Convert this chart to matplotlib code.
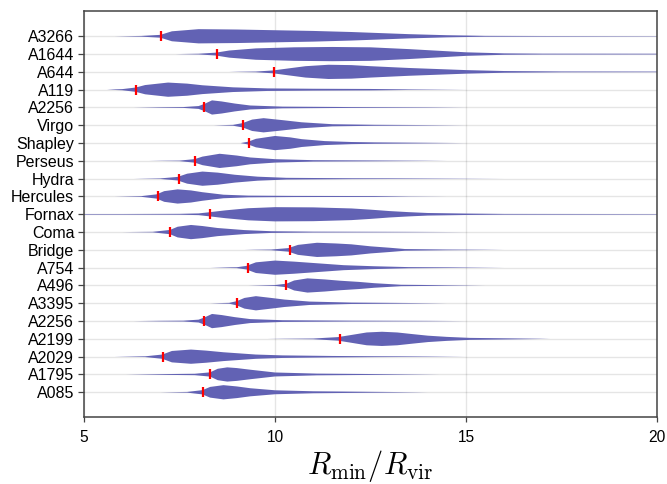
import numpy as np
import matplotlib
matplotlib.use("Agg")
import matplotlib.pyplot as plt

plt.rcParams['font.family'] = ['Liberation Sans', 'DejaVu Sans']
plt.rcParams['mathtext.fontset'] = 'cm'

# clusters, listed bottom to top
clusters = ["A085", "A1795", "A2029", "A2199", "A2256", "A3395", "A496", "A754",
            "Bridge", "Coma", "Fornax", "Hercules", "Hydra", "Perseus", "Shapley",
            "Virgo", "A2256", "A119", "A644", "A1644", "A3266"]

# observed R_min/R_vir of each cluster (red ticks)
observed = [8.12, 8.31, 7.06, 11.7, 8.14, 9.0, 10.3, 9.28,
            10.4, 7.26, 8.3, 6.94, 7.48, 7.91, 9.31,
            9.16, 8.14, 6.36, 9.97, 8.48, 7.02]

# density profiles of the simulated R_min/R_vir: grid and relative density
grid_a085 = [7.0, 7.7, 8.1, 8.3, 8.65, 9.0, 9.35, 10.0, 11.0, 12.6, 14.0]
dens_a085 = [0.0, 0.05, 0.3, 0.75, 1.0, 0.82, 0.57, 0.28, 0.14, 0.06, 0.0]
grid_a1795 = [6.1, 7.0, 7.9, 8.3, 8.5, 8.75, 9.0, 9.35, 10.0, 11.1, 12.6, 14.3]
dens_a1795 = [0.0, 0.05, 0.1, 0.3, 0.8, 1.0, 0.9, 0.67, 0.28, 0.12, 0.06, 0.0]
grid_a2029 = [5.8, 6.6, 7.05, 7.3, 7.8, 8.2, 8.65, 9.5, 10.2, 11.5, 12.6, 14.0, 15.0]
dens_a2029 = [0.0, 0.05, 0.3, 0.8, 1.0, 0.85, 0.62, 0.3, 0.18, 0.1, 0.06, 0.03, 0.0]
grid_a2199 = [9.8, 11.0, 11.65, 12.0, 12.4, 12.8, 13.2, 13.6, 14.0, 14.5, 15.1, 16.2, 17.2]
dens_a2199 = [0.0, 0.05, 0.25, 0.55, 0.9, 1.0, 0.9, 0.67, 0.45, 0.28, 0.14, 0.07, 0.0]
grid_a2256 = [6.3, 7.0, 7.6, 8.0, 8.15, 8.35, 8.6, 8.95, 9.35, 10.2, 12.0, 14.0, 15.0]
dens_a2256 = [0.0, 0.04, 0.06, 0.2, 0.5, 1.0, 0.85, 0.55, 0.28, 0.12, 0.06, 0.03, 0.0]
grid_a3395 = [8.3, 8.8, 9.0, 9.2, 9.5, 9.9, 10.25, 10.9, 12.0, 13.5, 14.5]
dens_a3395 = [0.0, 0.06, 0.3, 0.75, 1.0, 0.75, 0.52, 0.24, 0.1, 0.04, 0.0]
grid_a496 = [9.3, 10.0, 10.3, 10.5, 10.85, 11.3, 11.7, 12.2, 12.6, 13.3, 14.5, 15.5]
dens_a496 = [0.0, 0.06, 0.25, 0.7, 1.0, 0.85, 0.67, 0.5, 0.32, 0.1, 0.04, 0.0]
grid_a754 = [8.3, 9.0, 9.25, 9.5, 10.0, 10.5, 11.1, 11.8, 12.6, 13.5, 15.0, 16.0]
dens_a754 = [0.0, 0.06, 0.25, 0.75, 1.0, 0.85, 0.62, 0.35, 0.2, 0.08, 0.03, 0.0]
grid_bridge = [9.2, 9.9, 10.35, 10.6, 11.1, 11.6, 12.0, 12.5, 13.0, 13.4, 14.5, 16.0]
dens_bridge = [0.0, 0.05, 0.25, 0.7, 1.0, 0.9, 0.78, 0.5, 0.3, 0.12, 0.05, 0.0]
grid_coma = [6.0, 6.8, 7.25, 7.45, 7.8, 8.1, 8.5, 9.2, 9.9, 11.0, 13.5, 15.0]
dens_coma = [0.0, 0.04, 0.3, 0.75, 1.0, 0.85, 0.57, 0.28, 0.12, 0.06, 0.03, 0.0]
grid_fornax = [4.8, 6.0, 7.5, 8.0, 8.3, 8.7, 9.3, 10.0, 11.0, 12.0, 12.5, 13.0, 13.5, 14.0, 15.0, 16.0, 20.5]
dens_fornax = [0.04, 0.04, 0.06, 0.12, 0.3, 0.55, 0.85, 1.0, 0.97, 0.82, 0.65, 0.45, 0.3, 0.18, 0.1, 0.05, 0.03]
grid_hercules = [5.8, 6.5, 6.9, 7.1, 7.45, 7.8, 8.1, 8.65, 9.3, 10.5, 12.6, 13.5, 14.5]
dens_hercules = [0.0, 0.05, 0.3, 0.75, 1.0, 0.85, 0.6, 0.25, 0.12, 0.08, 0.06, 0.02, 0.0]
grid_hydra = [6.3, 7.0, 7.45, 7.7, 8.1, 8.5, 8.95, 9.55, 10.3, 12.0, 14.0, 16.0]
dens_hydra = [0.0, 0.04, 0.25, 0.7, 1.0, 0.85, 0.55, 0.28, 0.12, 0.06, 0.03, 0.0]
grid_perseus = [6.7, 7.5, 7.9, 8.1, 8.55, 9.0, 9.35, 10.0, 11.0, 12.5, 14.5]
dens_perseus = [0.0, 0.04, 0.25, 0.6, 1.0, 0.75, 0.48, 0.24, 0.1, 0.06, 0.0]
grid_shapley = [9.1, 9.3, 9.5, 10.0, 10.4, 10.7, 11.3, 12.0, 12.6, 13.8, 15.0]
dens_shapley = [0.0, 0.2, 0.6, 1.0, 0.8, 0.55, 0.28, 0.15, 0.1, 0.05, 0.0]
grid_virgo = [8.4, 8.9, 9.15, 9.4, 9.7, 10.2, 10.7, 11.5, 12.6, 14.0, 15.0]
dens_virgo = [0.0, 0.06, 0.3, 0.8, 1.0, 0.72, 0.42, 0.15, 0.07, 0.03, 0.0]
grid_a2256b = [6.3, 7.0, 7.6, 8.0, 8.15, 8.35, 8.6, 8.95, 9.35, 10.2, 12.0, 14.0, 15.0]
dens_a2256b = [0.0, 0.04, 0.06, 0.2, 0.5, 1.0, 0.85, 0.55, 0.28, 0.12, 0.06, 0.03, 0.0]
grid_a119 = [5.6, 6.0, 6.35, 6.6, 7.2, 7.7, 8.1, 8.9, 9.8, 11.0, 12.5, 13.5, 15.0]
dens_a119 = [0.0, 0.08, 0.3, 0.65, 1.0, 0.85, 0.62, 0.33, 0.18, 0.13, 0.1, 0.04, 0.0]
grid_a644 = [8.8, 9.5, 9.95, 10.3, 10.8, 11.4, 12.0, 12.5, 13.5, 14.5, 15.0, 16.0, 17.5, 20.5]
dens_a644 = [0.0, 0.05, 0.2, 0.45, 0.8, 1.0, 0.95, 0.8, 0.55, 0.35, 0.25, 0.12, 0.06, 0.04]
grid_a1644 = [7.4, 8.0, 8.45, 8.8, 9.5, 10.5, 11.5, 12.5, 13.5, 14.5, 15.0, 16.0, 17.0, 20.5]
dens_a1644 = [0.0, 0.05, 0.2, 0.5, 0.8, 0.95, 1.0, 0.95, 0.7, 0.4, 0.25, 0.1, 0.06, 0.05]
grid_a3266 = [5.8, 6.5, 7.0, 7.3, 8.0, 9.0, 10.0, 11.0, 12.0, 12.6, 13.5, 14.5, 15.5, 17.0, 20.5]
dens_a3266 = [0.0, 0.05, 0.2, 0.7, 1.0, 0.95, 0.85, 0.75, 0.6, 0.48, 0.3, 0.15, 0.06, 0.04, 0.02]

grids = [grid_a085, grid_a1795, grid_a2029, grid_a2199, grid_a2256, grid_a3395,
         grid_a496, grid_a754, grid_bridge, grid_coma, grid_fornax, grid_hercules,
         grid_hydra, grid_perseus, grid_shapley, grid_virgo, grid_a2256b,
         grid_a119, grid_a644, grid_a1644, grid_a3266]
dens = [dens_a085, dens_a1795, dens_a2029, dens_a2199, dens_a2256, dens_a3395,
        dens_a496, dens_a754, dens_bridge, dens_coma, dens_fornax, dens_hercules,
        dens_hydra, dens_perseus, dens_shapley, dens_virgo, dens_a2256b,
        dens_a119, dens_a644, dens_a1644, dens_a3266]

vpstats = []
for g, d in zip(grids, dens):
    vpstats.append({"coords": np.array(g), "vals": np.array(d),
                    "mean": np.mean(g), "median": np.median(g),
                    "min": g[0], "max": g[-1]})

pos = np.arange(len(clusters))

fig = plt.figure(figsize=(6.67, 4.84), dpi=100)
ax = fig.add_axes([0.126, 0.1384, 0.859, 0.8396])

parts = ax.violin(vpstats, positions=pos, orientation='horizontal', widths=0.8,
                  showextrema=False)
for body in parts['bodies']:
    body.set_facecolor('#6262b4')
    body.set_edgecolor('none')
    body.set_alpha(1.0)
    body.set_zorder(2)

ax.plot(observed, pos, ls='none', marker='|', ms=7, mew=1.6, color='red', zorder=3)

ax.set_xlim(5, 20)
ax.set_ylim(-1.39, 21.44)
ax.set_xticks([5, 10, 15, 20])
ax.set_yticks(pos)
ax.set_yticklabels(clusters)
ax.grid(True, color='black', alpha=0.1, lw=1.0, zorder=0)
ax.set_axisbelow(True)
ax.tick_params(axis='both', direction='out', color='#444444', labelsize=11.2)
ax.tick_params(axis='y', labelsize=11.5)
ax.tick_params(axis='x', length=3.5, width=0.9, pad=6)
ax.tick_params(axis='y', length=4, width=0.9, pad=3)
for s in ax.spines.values():
    s.set_color('#444444')
    s.set_linewidth(1.1)

ax.set_xlabel(r'$R_{\rm min}/R_{\rm vir}$', fontsize=22, labelpad=2)

fig.savefig('out.png', dpi=100)
